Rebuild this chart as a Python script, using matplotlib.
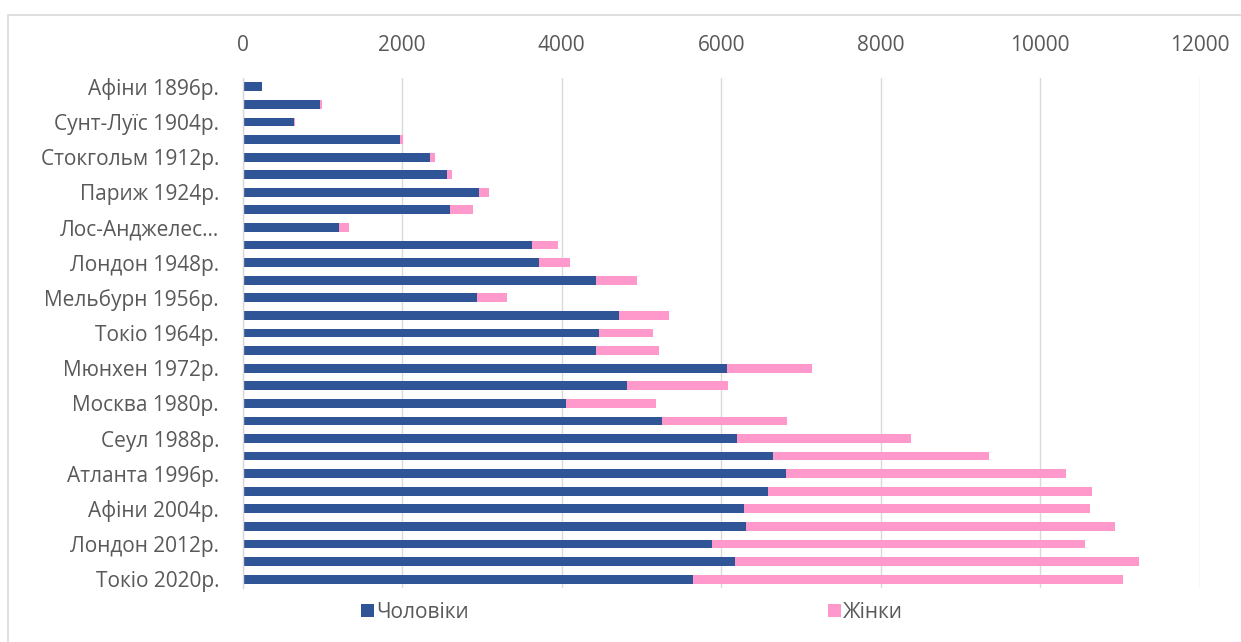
import matplotlib
matplotlib.use("Agg")
import matplotlib.pyplot as plt
from matplotlib.patches import Patch, Rectangle

games = ["Афіни 1896р.", "Париж 1900р.", "Сунт-Луїс 1904р.", "Лондон 1908р.",
         "Стокгольм 1912р.", "Антверпен 1920р.", "Париж 1924р.", "Амстердам 1928р.",
         "Лос-Анджелес 1932р.", "Берлін 1936р.", "Лондон 1948р.", "Гельсінкі 1952р.",
         "Мельбурн 1956р.", "Рим 1960р.", "Токіо 1964р.", "Мехіко 1968р.",
         "Мюнхен 1972р.", "Монреаль 1976р.", "Москва 1980р.", "Лос-Анджелес 1984р.",
         "Сеул 1988р.", "Барселона 1992р.", "Атланта 1996р.", "Сідней 2000р.",
         "Афіни 2004р.", "Пекін 2008р.", "Лондон 2012р.", "Ріо-де-Жанейро 2016р.",
         "Токіо 2020р."]
men = [245, 968, 641, 1975, 2351, 2559, 2957, 2605, 1206, 3630, 3716, 4429, 2937,
       4723, 4469, 4433, 6074, 4823, 4058, 5262, 6201, 6650, 6808, 6581, 6290, 6306,
       5890, 6175, 5647]
women = [0, 25, 9, 29, 55, 66, 133, 277, 128, 328, 386, 521, 371, 618, 676, 781,
         1061, 1262, 1125, 1567, 2185, 2707, 3510, 4069, 4329, 4634, 4676, 5066, 5393]
series_names = ["Чоловіки", "Жінки"]
x_ticks = [0, 2000, 4000, 6000, 8000, 10000, 12000]

MEN_C = "#2F5597"
WOMEN_C = "#FF99CC"
TEXT_C = "#595959"
GRID_C = "#D9D9D9"

plt.rcParams["font.family"] = ["Open Sans", "DejaVu Sans"]
FS = 15

W, H = 1241, 642
fig = plt.figure(figsize=(W / 100, H / 100), dpi=100)
ax = fig.add_axes([242.7 / W, 1 - 588 / H, 957 / W, 510 / H])

y = list(range(len(games)))
ax.barh(y, men, height=0.5, color=MEN_C, label=series_names[0], zorder=3)
ax.barh(y, women, left=men, height=0.5, color=WOMEN_C, label=series_names[1], zorder=3)

ax.set_xlim(0, 12000)
ax.set_ylim(len(games) - 0.5, -0.5)
ax.set_xticks(x_ticks)
ax.set_xticklabels([str(v) for v in x_ticks])
ax.xaxis.tick_top()
ax.tick_params(axis="x", length=0, pad=15.5, labelsize=FS, labelcolor=TEXT_C)


def short(name):
    return name if len(name) <= 16 else name[:12] + "…"


ax.set_yticks(y[::2])
ax.set_yticklabels([short(g) for g in games[::2]])
ax.tick_params(axis="y", length=0, pad=17.0, labelsize=FS, labelcolor=TEXT_C)

ax.grid(axis="x", color=GRID_C, linewidth=1.0, zorder=0)
ax.set_axisbelow(True)
for s in ["top", "right", "bottom"]:
    ax.spines[s].set_visible(False)
ax.spines["left"].set_color(GRID_C)
ax.spines["left"].set_linewidth(1.0)
ax.spines["left"].set_zorder(4)

# legends (two spaced entries, like Excel)
for name, col, xp in [(series_names[0], MEN_C, 361), (series_names[1], WOMEN_C, 828)]:
    fig.legend(handles=[Patch(facecolor=col, label=name)], loc="center left",
               bbox_to_anchor=(xp / W, 1 - 612 / H), frameon=False,
               handlelength=0.6, handleheight=0.6, handletextpad=0.12,
               borderpad=0, borderaxespad=0, fontsize=FS, labelcolor=TEXT_C)

# chart-area border (only left/top visible in crop)
fig.patches.append(Rectangle((8 / W, -0.1), 1.2, 1.1 - 15 / H,
                             transform=fig.transFigure, fill=False,
                             edgecolor=GRID_C, linewidth=1.2))

fig.savefig("out.png", dpi=100, facecolor="white")
